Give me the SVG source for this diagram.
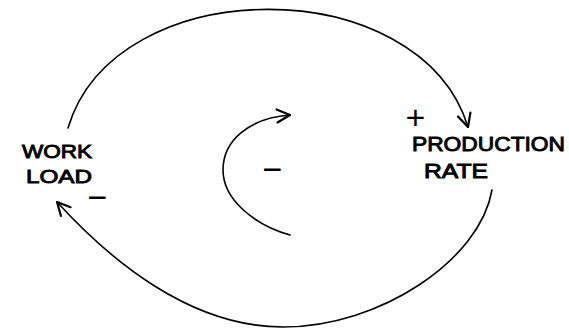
<svg xmlns="http://www.w3.org/2000/svg" width="569" height="329" viewBox="0 0 569 329">
<style>
  .lbl { font-family: "Liberation Sans", Arial, sans-serif; fill: #000; stroke: #000; stroke-width: 0.9; }
  .sign { font-family: "Liberation Sans", Arial, sans-serif; fill: #000; font-size: 34px; text-anchor: middle; }
  .link { fill: none; stroke: #000; stroke-width: 1.6; stroke-linecap: round; }
</style>
<defs>
  <marker id="arrow" markerUnits="userSpaceOnUse" markerWidth="20" markerHeight="20" refX="0" refY="0" viewBox="-15 -10 20 20" orient="auto">
    <path d="M-13,-6.5 L0,0 L-13,6.5" fill="none" stroke="#000" stroke-width="2.2" stroke-linecap="round" stroke-linejoin="round"/>
  </marker>
</defs>
<rect width="569" height="329" fill="#fff"/>
<g id="connectors">
  <path class="link" d="M68,128 C115,-30 420,-30 468,127" marker-end="url(#arrow)"/>
  <path class="link" d="M492,190 C480,260 380,327 283,327 C190,327 110,260 57,202" marker-end="url(#arrow)"/>
  <path class="link" d="M290,235 C255,225 223,200 223,170 C223,140 250,118 290,115" marker-end="url(#arrow)"/>
  <text class="sign" x="415.5" y="129">+</text>
  <text class="sign" x="97.5" y="209">−</text>
  <text class="sign" x="272.5" y="181">−</text>
</g>
<g id="node-workload">
  <text class="lbl" font-size="19" x="22" y="158" textLength="70" lengthAdjust="spacingAndGlyphs">WORK</text>
  <text class="lbl" font-size="19" x="26" y="183" textLength="66" lengthAdjust="spacingAndGlyphs">LOAD</text>
</g>
<g id="node-production-rate">
  <text class="lbl" font-size="20" x="412" y="151" textLength="153" lengthAdjust="spacingAndGlyphs">PRODUCTION</text>
  <text class="lbl" font-size="20" x="424" y="178" textLength="64" lengthAdjust="spacingAndGlyphs">RATE</text>
</g>
</svg>
